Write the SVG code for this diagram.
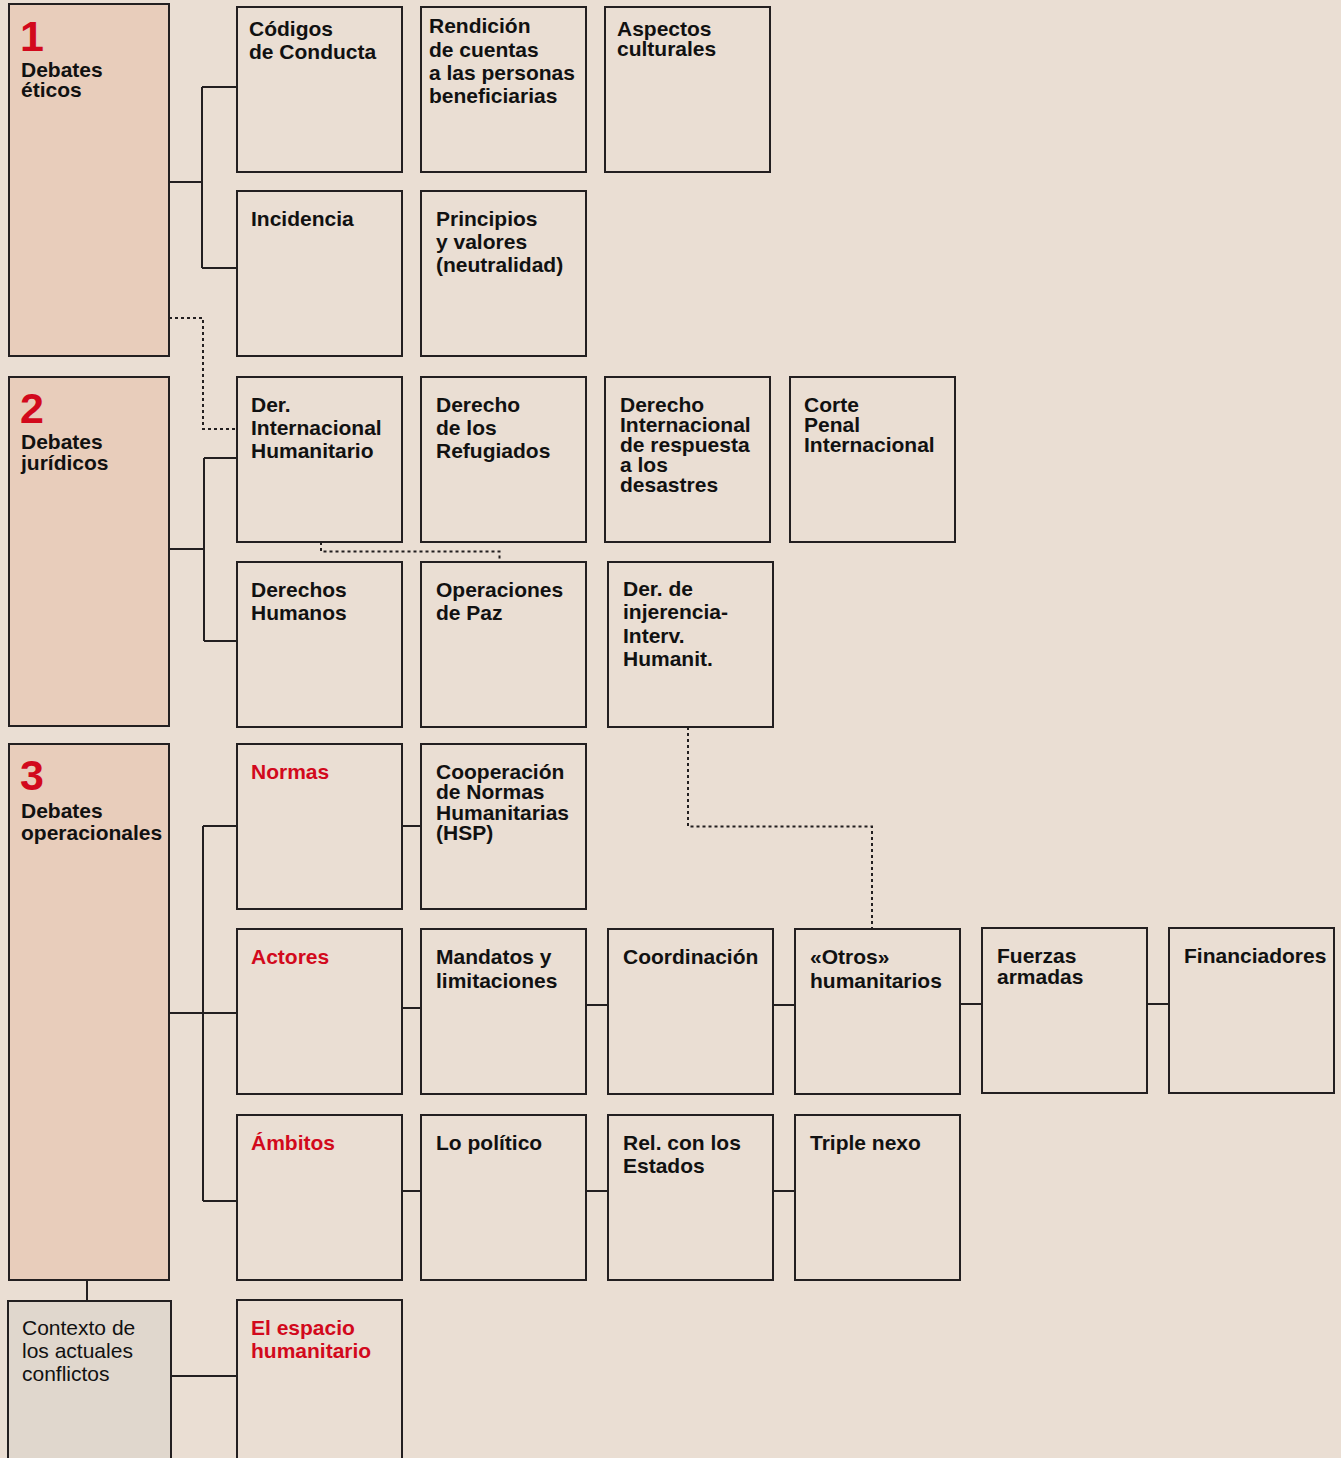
<svg xmlns="http://www.w3.org/2000/svg" width="1341" height="1458" viewBox="0 0 1341 1458">
  <style>
    .bg { fill: #EADED3; }
    .node rect { fill: #EADED3; stroke: #231F20; stroke-width: 2; }
    .node.main rect { fill: #E8CDBB; }
    .node.ctx rect { fill: #E0D7CD; }
    text { font-family: "Liberation Sans", Arial, Helvetica, sans-serif; font-size: 21px; font-weight: bold; fill: #111; }
    text.red { fill: #D2091C; }
    text.num { font-size: 43px; fill: #D2091C; }
    text.reg { font-weight: normal; }
    .links path { fill: none; stroke: #231F20; stroke-width: 2; }
    .links path.dot { stroke-dasharray: 3 3; }
  </style>

  <rect class="bg" x="0" y="0" width="1341" height="1458"/>

  <!-- connectors -->
  <g class="links">
    <!-- 1 Debates éticos -->
    <path d="M169 182 H202 M202 87 V268 M202 87 H237 M202 268 H237"/>
    <path class="dot" d="M169 318 H203 V429 H237"/>
    <!-- 2 Debates jurídicos -->
    <path d="M169 549 H204 M204 458 V641 M204 458 H237 M204 641 H237"/>
    <path class="dot" d="M321 542 V551.5 H499.5 V562"/>
    <path class="dot" d="M688 727 V826.5 H872 V929"/>
    <!-- 3 Debates operacionales -->
    <path d="M169 1013 H237 M203 826 V1201 M203 826 H237 M203 1201 H237"/>
    <path d="M402 826 H421"/>
    <path d="M402 1008 H421 M586 1005 H608 M773 1005 H795 M960 1004 H982 M1147 1004 H1169"/>
    <path d="M402 1191 H421 M586 1191 H608 M773 1191 H795"/>
    <!-- contexto -->
    <path d="M87 1280 V1301"/>
    <path d="M171 1376 H237"/>
  </g>

  <!-- main columns -->
  <g id="debates-eticos" class="node main">
    <rect x="9" y="4" width="160" height="352"/>
    <text class="num" x="20" y="51">1</text>
    <text x="21" y="77">Debates<tspan x="21" y="97">éticos</tspan></text>
  </g>
  <g id="debates-juridicos" class="node main">
    <rect x="9" y="377" width="160" height="349"/>
    <text class="num" x="20" y="423">2</text>
    <text x="21" y="449">Debates<tspan x="21" y="470">jurídicos</tspan></text>
  </g>
  <g id="debates-operacionales" class="node main">
    <rect x="9" y="744" width="160" height="536"/>
    <text class="num" x="20" y="790">3</text>
    <text x="21" y="818">Debates<tspan x="21" y="840">operacionales</tspan></text>
  </g>
  <g id="contexto" class="node ctx">
    <rect x="8" y="1301" width="163" height="170"/>
    <text class="reg" x="22" y="1335">Contexto de<tspan x="22" y="1358">los actuales</tspan><tspan x="22" y="1381">conflictos</tspan></text>
  </g>

  <!-- row: ethics -->
  <g id="codigos" class="node">
    <rect x="237" y="7" width="165" height="165"/>
    <text x="249" y="36">Códigos<tspan x="249" y="59">de Conducta</tspan></text>
  </g>
  <g id="rendicion" class="node">
    <rect x="421" y="7" width="165" height="165"/>
    <text x="429" y="33">Rendición<tspan x="429" y="57">de cuentas</tspan><tspan x="429" y="80">a las personas</tspan><tspan x="429" y="103">beneficiarias</tspan></text>
  </g>
  <g id="aspectos" class="node">
    <rect x="605" y="7" width="165" height="165"/>
    <text x="617" y="36">Aspectos<tspan x="617" y="56">culturales</tspan></text>
  </g>
  <g id="incidencia" class="node">
    <rect x="237" y="191" width="165" height="165"/>
    <text x="251" y="226">Incidencia</text>
  </g>
  <g id="principios" class="node">
    <rect x="421" y="191" width="165" height="165"/>
    <text x="436" y="226">Principios<tspan x="436" y="249">y valores</tspan><tspan x="436" y="272">(neutralidad)</tspan></text>
  </g>

  <!-- row: law -->
  <g id="dih" class="node">
    <rect x="237" y="377" width="165" height="165"/>
    <text x="251" y="412">Der.<tspan x="251" y="435">Internacional</tspan><tspan x="251" y="458">Humanitario</tspan></text>
  </g>
  <g id="refugiados" class="node">
    <rect x="421" y="377" width="165" height="165"/>
    <text x="436" y="412">Derecho<tspan x="436" y="435">de los</tspan><tspan x="436" y="458">Refugiados</tspan></text>
  </g>
  <g id="desastres" class="node">
    <rect x="605" y="377" width="165" height="165"/>
    <text x="620" y="412">Derecho<tspan x="620" y="432">Internacional</tspan><tspan x="620" y="452">de respuesta</tspan><tspan x="620" y="472">a los</tspan><tspan x="620" y="492">desastres</tspan></text>
  </g>
  <g id="cpi" class="node">
    <rect x="790" y="377" width="165" height="165"/>
    <text x="804" y="412">Corte<tspan x="804" y="432">Penal</tspan><tspan x="804" y="452">Internacional</tspan></text>
  </g>
  <g id="ddhh" class="node">
    <rect x="237" y="562" width="165" height="165"/>
    <text x="251" y="597">Derechos<tspan x="251" y="620">Humanos</tspan></text>
  </g>
  <g id="paz" class="node">
    <rect x="421" y="562" width="165" height="165"/>
    <text x="436" y="597">Operaciones<tspan x="436" y="620">de Paz</tspan></text>
  </g>
  <g id="injerencia" class="node">
    <rect x="608" y="562" width="165" height="165"/>
    <text x="623" y="596">Der. de<tspan x="623" y="619">injerencia-</tspan><tspan x="623" y="643">Interv.</tspan><tspan x="623" y="666">Humanit.</tspan></text>
  </g>

  <!-- row: operations -->
  <g id="normas" class="node">
    <rect x="237" y="744" width="165" height="165"/>
    <text class="red" x="251" y="779">Normas</text>
  </g>
  <g id="hsp" class="node">
    <rect x="421" y="744" width="165" height="165"/>
    <text x="436" y="779">Cooperación<tspan x="436" y="799">de Normas</tspan><tspan x="436" y="820">Humanitarias</tspan><tspan x="436" y="840">(HSP)</tspan></text>
  </g>
  <g id="actores" class="node">
    <rect x="237" y="929" width="165" height="165"/>
    <text class="red" x="251" y="964">Actores</text>
  </g>
  <g id="mandatos" class="node">
    <rect x="421" y="929" width="165" height="165"/>
    <text x="436" y="964">Mandatos y<tspan x="436" y="988">limitaciones</tspan></text>
  </g>
  <g id="coordinacion" class="node">
    <rect x="608" y="929" width="165" height="165"/>
    <text x="623" y="964">Coordinación</text>
  </g>
  <g id="otros" class="node">
    <rect x="795" y="929" width="165" height="165"/>
    <text x="810" y="964">«Otros»<tspan x="810" y="988">humanitarios</tspan></text>
  </g>
  <g id="fuerzas" class="node">
    <rect x="982" y="928" width="165" height="165"/>
    <text x="997" y="963">Fuerzas<tspan x="997" y="984">armadas</tspan></text>
  </g>
  <g id="financiadores" class="node">
    <rect x="1169" y="928" width="165" height="165"/>
    <text x="1184" y="963">Financiadores</text>
  </g>
  <g id="ambitos" class="node">
    <rect x="237" y="1115" width="165" height="165"/>
    <text class="red" x="251" y="1150">Ámbitos</text>
  </g>
  <g id="politico" class="node">
    <rect x="421" y="1115" width="165" height="165"/>
    <text x="436" y="1150">Lo político</text>
  </g>
  <g id="estados" class="node">
    <rect x="608" y="1115" width="165" height="165"/>
    <text x="623" y="1150">Rel. con los<tspan x="623" y="1173">Estados</tspan></text>
  </g>
  <g id="triple-nexo" class="node">
    <rect x="795" y="1115" width="165" height="165"/>
    <text x="810" y="1150">Triple nexo</text>
  </g>

  <!-- context row -->
  <g id="espacio" class="node">
    <rect x="237" y="1300" width="165" height="170"/>
    <text class="red" x="251" y="1335">El espacio<tspan x="251" y="1358">humanitario</tspan></text>
  </g>
</svg>
